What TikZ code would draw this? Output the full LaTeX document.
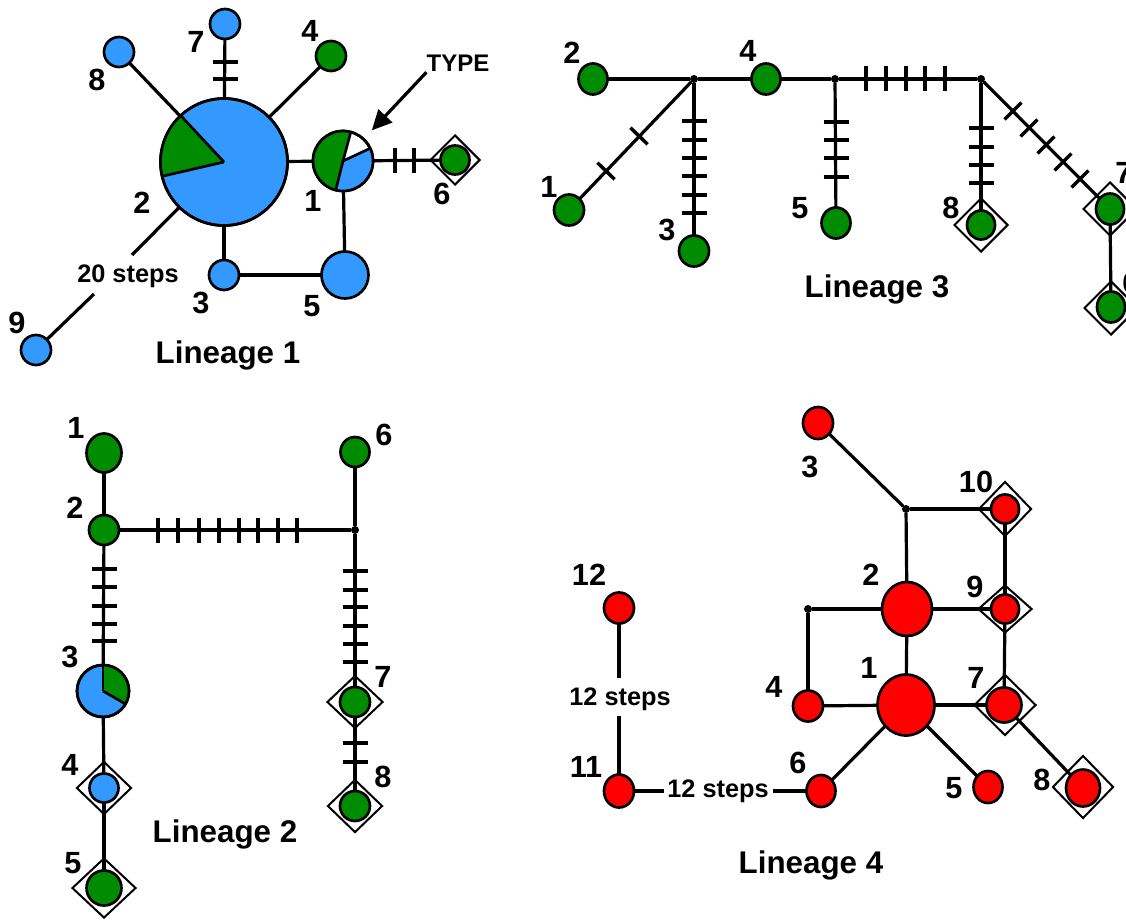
\documentclass[tikz,border=0pt]{standalone}
\usepackage{fontspec}
\setmainfont{Liberation Sans}
\usetikzlibrary{shapes.geometric,arrows.meta}
\definecolor{hblue}{RGB}{51,153,255}
\definecolor{hgreen}{RGB}{0,140,0}
\definecolor{hred}{RGB}{255,0,0}
\newcommand{\tickv}[2]{\draw[tk] (#1,#2-12.5) -- (#1,#2+12.5);}
\newcommand{\tickh}[2]{\draw[tk] (#1-12.5,#2) -- (#1+12.5,#2);}
\newcommand{\tickd}[3]{\draw[tk] (#1,#2) ++(#3:12) -- ++(#3+180:24);}
\begin{document}
\begin{tikzpicture}[x=0.75pt,y=-0.75pt,
  hap/.style 2 args={ellipse, draw=black, line width=2pt, inner sep=0pt, outer sep=0pt, minimum width=#1*1.5pt, minimum height=#2*1.5pt},
  blu/.style={fill=hblue}, grn/.style={fill=hgreen}, rd/.style={fill=hred}, wht/.style={fill=white},
  dia/.style 2 args={diamond, draw=black, line width=1.5pt, inner sep=0pt, minimum width=#1*1.5pt, minimum height=#2*1.5pt},
  jdot/.style={circle, fill=black, inner sep=0pt, outer sep=0pt, minimum size=6pt},
  edge/.style={draw=black, line width=2.4pt},
  tk/.style={draw=black, line width=2.6pt},
  pieline/.style={draw=black, line width=2pt},
  num/.style={font=\fontsize{23}{25}\selectfont\bfseries, inner sep=0pt, anchor=base},
  lin/.style={font=\fontsize{23.5}{26}\selectfont\bfseries, inner sep=0pt, anchor=base},
  stp/.style={font=\fontsize{19}{21}\selectfont\bfseries, inner sep=0pt, anchor=base},
  ]
\clip (0,0) rectangle (1126,920);
\fill[white] (0,0) rectangle (1126,920);

% ================= Lineage 1 =================
\node[dia={25}{25}] (l1d6) at (455,160) {};
\node[hap={63.5}{63.5}, blu] (l1n2) at (224,162) {};
\node[hap={30}{30}, wht] (l1n1) at (343,161) {};
\node[hap={14.5}{14.5}, grn] (l1n6) at (455,160) {};
\node[hap={15}{15}, blu] (l1n7) at (225,24) {};
\node[hap={15}{15}, blu] (l1n8) at (119,52) {};
\node[hap={15}{15}, grn] (l1n4) at (331,56) {};
\node[hap={15}{15}, blu] (l1n3) at (224,275) {};
\node[hap={23.5}{23.5}, blu] (l1n5) at (345,275) {};
\node[hap={15}{15}, blu] (l1n9) at (36,350) {};
\coordinate (l1b1) at (132,255);
\coordinate (l1b2) at (94,294);
% pie for node 2
\fill[hgreen] (l1n2.center) -- ++(-133:63.5) arc[start angle=-133, end angle=-193, radius=63.5] -- cycle;
\draw[pieline] (l1n2.center) -- ++(-133:63.5);
\draw[pieline] (l1n2.center) -- ++(-193:63.5);
\draw[pieline] (l1n2.center) circle[radius=63.5];
% pie for node 1
\fill[hgreen] (l1n1.center) -- ++(-75:30) arc[start angle=-75, end angle=-256, radius=30] -- cycle;
\fill[hblue] (l1n1.center) -- ++(-256:30) arc[start angle=-256, end angle=-385, radius=30] -- cycle;
\draw[pieline] (l1n1.center) -- ++(-75:30);
\draw[pieline] (l1n1.center) -- ++(-256:30);
\draw[pieline] (l1n1.center) -- ++(-25:30);
\draw[pieline] (l1n1.center) circle[radius=30];
% edges
\draw[edge] (l1n2) -- (l1n8);
\draw[edge] (l1n2) -- (l1n7);
\draw[edge] (l1n2) -- (l1n4);
\draw[edge] (l1n2) -- (l1n1);
\draw[edge] (l1n1) -- (l1n6);
\draw[edge] (l1n2) -- (l1n3);
\draw[edge] (l1n3) -- (l1n5);
\draw[edge] (l1n1) -- (l1n5);
\draw[edge] (l1n2) -- (l1b1);
\draw[edge] (l1b2) -- (l1n9);
\tickh{225}{62} \tickh{225}{79}
\tickv{395}{160} \tickv{414}{160}
% labels
\node[num] at (97,91) {8};
\node[num] at (196,53) {7};
\node[num] at (310,42) {4};
\node[num] at (313,211) {1};
\node[num] at (442,204) {6};
\node[num] at (142,213) {2};
\node[num] at (201,313) {3};
\node[num] at (312,316) {5};
\node[num] at (17,333) {9};
\node[stp] at (128,282) {20 steps};
\node[lin] at (228,363) {Lineage 1};
\node[font=\fontsize{18}{20}\selectfont\bfseries, inner sep=0pt, anchor=base] (type) at (458,72) {TYPE};
\draw[edge, -{Triangle[length=15pt,width=14pt]}, shorten >=9pt] (type.south west) -- (l1n1);

% ================= Lineage 3 =================
\node[dia={27}{27}] (l3d8) at (981,225) {};
\node[dia={27}{27}] (l3d7) at (1110,209) {};
\node[dia={27}{27}] (l3d6) at (1111,308) {};
\node[hap={14.5}{15.5}, grn] (l3n2) at (593,79) {};
\node[jdot] (l3a) at (694,79) {};
\node[hap={14.5}{15.5}, grn] (l3n4) at (766,79) {};
\node[jdot] (l3b) at (835,79) {};
\node[jdot] (l3c) at (981,79) {};
\node[hap={15}{15.5}, grn] (l3n1) at (569,210) {};
\node[hap={15}{15.5}, grn] (l3n3) at (694,251) {};
\node[hap={14.5}{15.5}, grn] (l3n5) at (836,223) {};
\node[hap={14}{14.5}, grn] (l3n8) at (981,225) {};
\node[hap={14}{15.5}, grn] (l3n7) at (1110,209) {};
\node[hap={14}{15.5}, grn] (l3n6) at (1111,307) {};
\draw[edge] (l3n2) -- (l3a);
\draw[edge] (l3a) -- (l3n4);
\draw[edge] (l3n4) -- (l3b);
\draw[edge] (l3b) -- (l3c);
\draw[edge] (l3a) -- (l3n1);
\draw[edge] (l3a) -- (l3n3);
\draw[edge] (l3b) -- (l3n5);
\draw[edge] (l3c) -- (l3n8);
\draw[edge] (l3c) -- (l3n7);
\draw[edge] (l3n7) -- (l3n6);
\tickv{866}{79} \tickv{886}{79} \tickv{906}{79} \tickv{925}{79} \tickv{945}{79}
\tickd{606}{171}{44} \tickd{639}{136}{44}
\tickh{694}{121} \tickh{694}{140} \tickh{694}{158} \tickh{694}{176} \tickh{694}{195} \tickh{694}{213}
\tickh{836}{122} \tickh{836}{140} \tickh{836}{158} \tickh{836}{177}
\tickh{981}{128} \tickh{981}{147} \tickh{981}{165} \tickh{981}{183}
\tickd{1013}{111}{-45} \tickd{1029}{128}{-45} \tickd{1046}{145}{-45} \tickd{1063}{162}{-45} \tickd{1080}{179}{-45}
\node[num] at (572,64) {2};
\node[num] at (748,62) {4};
\node[num] at (549,197) {1};
\node[num] at (667,240) {3};
\node[num] at (800,218) {5};
\node[num] at (951,218) {8};
\node[num] at (1124,183) {7};
\node[num] at (1131,293) {6};
\node[lin] at (877,297) {Lineage 3};

% ================= Lineage 2 =================
\node[dia={27.5}{26.5}] (l2d4) at (104,788) {};
\node[dia={32}{30}] (l2d5) at (104,888) {};
\node[dia={28}{26.5}] (l2d7) at (355,702) {};
\node[dia={27.5}{26.5}] (l2d8) at (355,806) {};
\node[hap={17.5}{19.5}, grn] (l2n1) at (104,453) {};
\node[hap={15}{15}, grn] (l2n2) at (104,530) {};
\node[jdot] (l2j) at (355,530) {};
\node[hap={14.5}{15}, grn] (l2n6) at (355,452) {};
\node[hap={26}{26}, blu] (l2n3) at (103,691) {};
\node[hap={14.5}{14.5}, blu] (l2n4) at (104,788) {};
\node[hap={17.5}{17.5}, grn] (l2n5) at (104,888) {};
\node[hap={15}{15}, grn] (l2n7) at (355,702) {};
\node[hap={15}{15}, grn] (l2n8) at (355,806) {};
\fill[hgreen] (l2n3.center) -- ++(30:26) arc[start angle=30, end angle=-90, radius=26] -- cycle;
\draw[pieline] (l2n3.center) -- ++(30:26);
\draw[pieline] (l2n3.center) -- ++(-90:26);
\draw[pieline] (l2n3.center) circle[radius=26];
\draw[edge] (l2n1) -- (l2n2);
\draw[edge] (l2n2) -- (l2j);
\draw[edge] (l2j) -- (l2n6);
\draw[edge] (l2n2) -- (l2n3);
\draw[edge] (l2j) -- (l2n7);
\draw[edge] (l2n3) -- (l2n4);
\draw[edge] (l2n4) -- (l2n5);
\draw[edge] (l2n7) -- (l2n8);
\tickv{158}{530} \tickv{178}{530} \tickv{199}{530} \tickv{219}{530} \tickv{239}{530} \tickv{258}{530} \tickv{278}{530} \tickv{297}{530}
\tickh{104}{569} \tickh{104}{587} \tickh{104}{606} \tickh{104}{624} \tickh{104}{641}
\tickh{355}{571} \tickh{355}{590} \tickh{355}{607} \tickh{355}{626} \tickh{355}{644} \tickh{355}{662}
\tickh{355}{743} \tickh{355}{762}
\node[num] at (76,438) {1};
\node[num] at (75,518) {2};
\node[num] at (70,667) {3};
\node[num] at (70,775) {4};
\node[num] at (73,873) {5};
\node[num] at (384,445) {6};
\node[num] at (383,687) {7};
\node[num] at (383,787) {8};
\node[lin] at (225,842) {Lineage 2};

% ================= Lineage 4 =================
\node[dia={26.5}{27.5}] (l4d10) at (1005,509) {};
\node[dia={27}{24}] (l4d9) at (1005,609) {};
\node[dia={31}{30.5}] (l4d7) at (1005,705) {};
\node[dia={30.5}{31.5}] (l4d8) at (1083,787) {};
\node[hap={15}{16}, rd] (l4n3) at (818,423) {};
\node[jdot] (l4k) at (906,509) {};
\node[hap={14}{14.5}, rd] (l4n10) at (1005,509) {};
\node[jdot] (l4l) at (808,609) {};
\node[hap={25}{27}, rd] (l4n2) at (907,609) {};
\node[hap={14}{14.5}, rd] (l4n9) at (1005,609) {};
\node[hap={28.5}{30.5}, rd] (l4n1) at (906,705) {};
\node[hap={15}{15.5}, rd] (l4n4) at (808,706) {};
\node[hap={17.5}{17.5}, rd] (l4n7) at (1004,705) {};
\node[hap={17}{18.5}, rd] (l4n8) at (1083,788) {};
\node[hap={14.5}{16}, rd] (l4n5) at (988,787) {};
\node[hap={14.5}{16}, rd] (l4n6) at (821,791) {};
\node[hap={15}{16.5}, rd] (l4n11) at (619,791) {};
\node[hap={15}{15.5}, rd] (l4n12) at (619,608) {};
\coordinate (l4b1) at (619,678);
\coordinate (l4b2) at (619,716);
\coordinate (l4b3) at (664,791);
\coordinate (l4b4) at (773,791);
\draw[edge] (l4n3) -- (l4k);
\draw[edge] (l4k) -- (l4n10);
\draw[edge] (l4k) -- (l4n2);
\draw[edge] (l4l) -- (l4n2);
\draw[edge] (l4l) -- (l4n4);
\draw[edge] (l4n2) -- (l4n9);
\draw[edge] (l4n10) -- (l4n9);
\draw[edge] (l4n9) -- (l4n7);
\draw[edge] (l4n2) -- (l4n1);
\draw[edge] (l4n4) -- (l4n1);
\draw[edge] (l4n1) -- (l4n7);
\draw[edge] (l4n7) -- (l4n8);
\draw[edge] (l4n1) -- (l4n5);
\draw[edge] (l4n1) -- (l4n6);
\draw[edge] (l4n12) -- (l4b1);
\draw[edge] (l4b2) -- (l4n11);
\draw[edge] (l4n11) -- (l4b3);
\draw[edge] (l4b4) -- (l4n6);
\node[num] at (810,477) {3};
\node[num] at (976,492) {10};
\node[num] at (871,585) {2};
\node[num] at (975,597) {9};
\node[num] at (869,678) {1};
\node[num] at (774,697) {4};
\node[num] at (976,688) {7};
\node[num] at (798,773) {6};
\node[num] at (954,798) {5};
\node[num] at (1042,790) {8};
\node[num] at (589,585) {12};
\node[num] at (586,777) {11};
\node[stp] at (718,797) {12 steps};
\node[stp] at (620,705) {12 steps};
\node[lin] at (811,873) {Lineage 4};
\end{tikzpicture}
\end{document}
